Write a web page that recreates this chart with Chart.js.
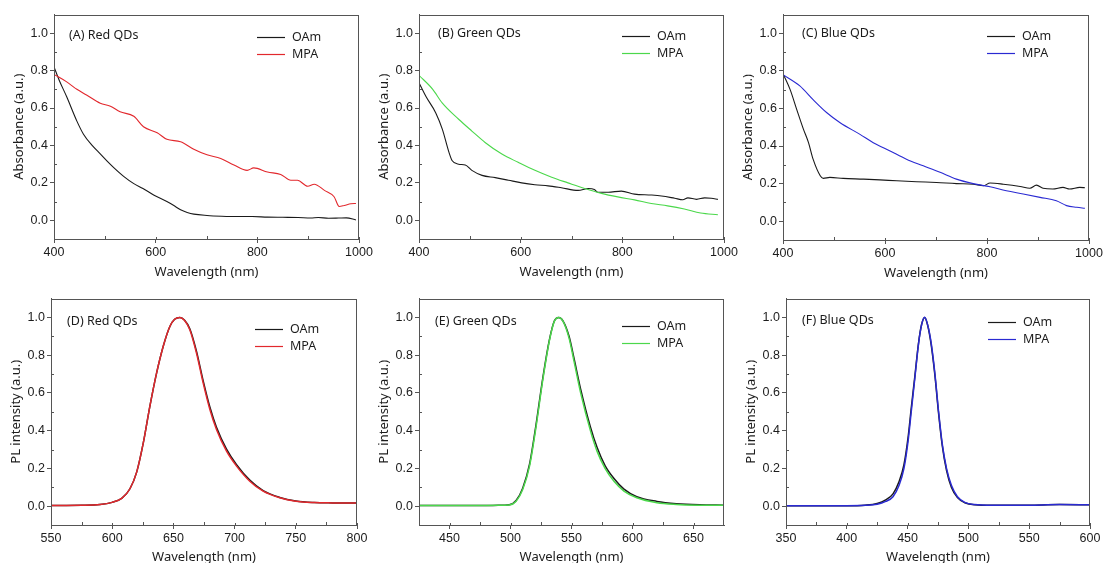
<!DOCTYPE html>
<html>
<head>
<meta charset="utf-8">
<script src="https://cdn.jsdelivr.net/npm/chart.js@4.4.1/dist/chart.umd.min.js"></script>
<style>
    html, body { margin: 0; padding: 0; background: #fff; }
    body { width: 1107px; height: 563px; position: relative; overflow: hidden; }
    .panel { position: absolute; }
</style>
</head>
<body>
<script>
// ---- absorbance (top row) ----
const absRedOAmNm = [400, 410, 425, 445, 458, 475, 491, 505, 517, 537, 557, 575, 596, 622, 635, 649, 662, 675, 701, 730, 760, 790, 820, 850, 880, 905, 920, 940, 960, 975, 994];
const absRedOAm = [0.82, 0.75, 0.66, 0.53, 0.46, 0.40, 0.355, 0.315, 0.283, 0.235, 0.196, 0.17, 0.135, 0.10, 0.08, 0.056, 0.042, 0.033, 0.026, 0.022, 0.020, 0.020, 0.017, 0.016, 0.015, 0.012, 0.015, 0.011, 0.012, 0.013, 0.002];
const absRedMPANm = [400, 425, 445, 464, 491, 511, 530, 557, 576, 603, 622, 649, 675, 701, 728, 754, 780, 793, 820, 846, 866, 879, 899, 912, 932, 951, 961, 971, 984, 994];
const absRedMPA = [0.78, 0.74, 0.70, 0.67, 0.626, 0.61, 0.58, 0.556, 0.50, 0.468, 0.433, 0.42, 0.38, 0.35, 0.33, 0.296, 0.267, 0.28, 0.258, 0.245, 0.214, 0.214, 0.182, 0.193, 0.16, 0.126, 0.074, 0.079, 0.088, 0.09];

const absGreenOAmNm = [400, 414, 433, 446, 459, 465, 478, 491, 504, 524, 550, 576, 602, 628, 654, 680, 713, 733, 745, 752, 772, 798, 824, 857, 877, 903, 919, 929, 946, 962, 975, 988];
const absGreenOAm = [0.735, 0.66, 0.574, 0.486, 0.363, 0.32, 0.30, 0.296, 0.267, 0.24, 0.228, 0.214, 0.20, 0.19, 0.184, 0.174, 0.16, 0.17, 0.165, 0.15, 0.15, 0.156, 0.14, 0.135, 0.13, 0.118, 0.11, 0.12, 0.112, 0.12, 0.118, 0.112];
const absGreenMPANm = [400, 427, 446, 478, 504, 530, 563, 595, 628, 661, 693, 726, 759, 791, 824, 857, 889, 922, 954, 988];
const absGreenMPA = [0.775, 0.70, 0.626, 0.54, 0.477, 0.416, 0.354, 0.31, 0.267, 0.23, 0.20, 0.17, 0.144, 0.125, 0.109, 0.09, 0.077, 0.06, 0.039, 0.03];

const absBlueOAmNm = [400, 414, 427, 440, 450, 459, 473, 479, 492, 518, 558, 590, 623, 662, 701, 740, 773, 793, 806, 832, 865, 884, 897, 910, 929, 949, 962, 982, 992];
const absBlueOAm = [0.785, 0.70, 0.594, 0.49, 0.418, 0.33, 0.242, 0.228, 0.233, 0.228, 0.224, 0.22, 0.215, 0.21, 0.206, 0.20, 0.197, 0.189, 0.203, 0.197, 0.185, 0.175, 0.192, 0.175, 0.171, 0.18, 0.171, 0.18, 0.178];
const absBlueMPANm = [400, 433, 459, 486, 512, 551, 577, 610, 642, 675, 708, 740, 773, 806, 838, 871, 904, 936, 956, 976, 992];
const absBlueMPA = [0.78, 0.72, 0.647, 0.577, 0.524, 0.462, 0.418, 0.374, 0.33, 0.295, 0.26, 0.224, 0.20, 0.183, 0.162, 0.145, 0.127, 0.109, 0.083, 0.074, 0.069];

// ---- PL (bottom row) ----
const plRedNm = [550, 575, 590, 600, 608, 614.5, 620, 625.4, 630.8, 636.3, 641.7, 647.1, 651, 655.3, 659, 663.4, 668.9, 674.3, 679.8, 685.2, 693.4, 701.6, 712.4, 723.3, 736.9, 750, 765, 780, 800];
const plRedOAm = [0.003, 0.004, 0.008, 0.02, 0.042, 0.092, 0.18, 0.335, 0.53, 0.706, 0.847, 0.952, 0.99, 1.0, 0.986, 0.94, 0.82, 0.665, 0.525, 0.418, 0.302, 0.22, 0.138, 0.082, 0.046, 0.027, 0.019, 0.017, 0.016];
const plRedMPA = [0.003, 0.004, 0.008, 0.02, 0.042, 0.092, 0.18, 0.335, 0.53, 0.706, 0.847, 0.952, 0.99, 1.0, 0.985, 0.935, 0.81, 0.653, 0.512, 0.406, 0.291, 0.212, 0.132, 0.079, 0.044, 0.026, 0.019, 0.017, 0.016];

const plGreenNm = [425, 460, 490, 499, 504.6, 510, 515.6, 521, 526.5, 532, 536, 539.5, 543, 548, 552, 557.5, 565.5, 571, 577.5, 585, 593, 603.5, 620, 636, 655, 675];
const plGreenOAm = [0.003, 0.003, 0.004, 0.007, 0.03, 0.095, 0.222, 0.435, 0.68, 0.885, 0.982, 1.0, 0.982, 0.9, 0.785, 0.62, 0.42, 0.31, 0.215, 0.145, 0.09, 0.05, 0.025, 0.013, 0.007, 0.005];
const plGreenMPA = [0.003, 0.003, 0.004, 0.006, 0.026, 0.088, 0.212, 0.423, 0.67, 0.88, 0.98, 1.0, 0.98, 0.89, 0.77, 0.6, 0.4, 0.29, 0.2, 0.13, 0.08, 0.044, 0.018, 0.009, 0.005, 0.004];

const plBlueNm = [350, 400, 415, 425, 432, 438, 443, 447, 450.5, 453, 456, 459, 461.5, 464, 466.5, 469.5, 472.5, 475.5, 478.5, 482, 486, 491, 497, 505, 520, 550, 575, 600];
const plBlueOAm = [0.002, 0.002, 0.005, 0.014, 0.033, 0.065, 0.13, 0.22, 0.37, 0.52, 0.69, 0.865, 0.962, 1.0, 0.958, 0.85, 0.69, 0.49, 0.32, 0.19, 0.1, 0.045, 0.018, 0.007, 0.004, 0.005, 0.008, 0.007];
const plBlueMPA = [0.002, 0.002, 0.004, 0.01, 0.025, 0.05, 0.11, 0.2, 0.35, 0.5, 0.68, 0.86, 0.96, 1.0, 0.96, 0.86, 0.7, 0.5, 0.33, 0.2, 0.11, 0.05, 0.02, 0.008, 0.004, 0.005, 0.008, 0.007];

// ---- ticks ----
const yTicks = [0, 0.2, 0.4, 0.6, 0.8, 1.0];
const yMinorTicks = [-0.1, 0.1, 0.3, 0.5, 0.7, 0.9];
const absXTicks = [400, 600, 800, 1000];
const absXMinor = [500, 700, 900];
const plRedXTicks = [550, 600, 650, 700, 750, 800];
const plRedXMinor = [575, 625, 675, 725, 775];
const plGreenXTicks = [450, 500, 550, 600, 650];
const plGreenXMinor = [475, 525, 575, 625];
const plBlueXTicks = [350, 400, 450, 500, 550, 600];
const plBlueXMinor = [375, 425, 475, 525, 575];

const seriesNames = ['OAm', 'MPA'];

const colors = {
    black: '#1a1a1a',
    red: '#e2282d',
    green: '#4bd84b',
    blue: '#2a2ad2',
    axis: '#555',
    text: '#1c1c1c'
};

const tickFont = "'Liberation Sans', Arial, sans-serif";
const labelFont = "'Noto Sans', 'Open Sans', sans-serif";

const AXIS_W = 50;
const AXIS_H = 42;
const PAD_TOP = 8;
const PAD_RIGHT = 22;

function points(xs, ys) {
    return xs.map((x, i) => ({ x, y: ys[i] }));
}

const panelDeco = {
    id: 'panelDeco',
    afterDatasetsDraw(chart, args, opts) {
        const { ctx, chartArea: a, scales } = chart;
        ctx.save();
        ctx.strokeStyle = colors.axis;
        ctx.lineWidth = 1;
        ctx.strokeRect(Math.round(a.left) + 0.5, Math.round(a.top) + 0.5,
            Math.round(a.right - a.left) - 1, Math.round(a.bottom - a.top) - 1);

        // inward ticks
        ctx.beginPath();
        opts.xMinor.forEach((v) => {
            const x = Math.round(scales.x.getPixelForValue(v)) + 0.5;
            ctx.moveTo(x, a.bottom);
            ctx.lineTo(x, a.bottom - 3);
        });
        opts.xMajor.forEach((v) => {
            const x = Math.round(scales.x.getPixelForValue(v)) + 0.5;
            ctx.moveTo(x, a.bottom);
            ctx.lineTo(x, a.bottom - 2);
        });
        opts.yMinor.forEach((v) => {
            const y = Math.round(scales.y.getPixelForValue(v)) + 0.5;
            ctx.moveTo(a.left, y);
            ctx.lineTo(a.left + 3, y);
        });
        ctx.stroke();

        // panel label
        ctx.fillStyle = colors.text;
        ctx.font = '12.5px ' + labelFont;
        ctx.textBaseline = 'middle';
        ctx.textAlign = 'left';
        ctx.fillText(opts.label, a.left + opts.labelDx, a.top + opts.labelDy);

        // legend
        chart.data.datasets.forEach((ds, i) => {
            const y = Math.round(a.top + opts.keyDy + i * 17.5) + 0.5;
            ctx.strokeStyle = ds.borderColor;
            ctx.lineWidth = 1.2;
            ctx.beginPath();
            ctx.moveTo(a.right - 102, y);
            ctx.lineTo(a.right - 74, y);
            ctx.stroke();
            ctx.fillText(ds.label, a.right - 67, y);
        });
        ctx.restore();
    }
};

function makePanel(p) {
    const [x0, y0, x1, y1] = p.box;
    const width = AXIS_W + (x1 - x0) + PAD_RIGHT;
    const height = PAD_TOP + (y1 - y0) + AXIS_H;
    const canvas = document.createElement('canvas');
    canvas.className = 'panel';
    canvas.width = width;
    canvas.height = height;
    canvas.style.left = (x0 - AXIS_W) + 'px';
    canvas.style.top = (y0 - PAD_TOP) + 'px';
    canvas.style.width = width + 'px';
    canvas.style.height = height + 'px';
    document.body.appendChild(canvas);

    const lineW = p.pl ? 1.5 : 1.1;

    return new Chart(canvas, {
        type: 'line',
        data: {
            datasets: [
                {
                    label: seriesNames[0],
                    data: points(p.oamNm, p.oam),
                    borderColor: colors.black,
                    borderWidth: lineW,
                    pointRadius: 0,
                    cubicInterpolationMode: 'monotone',
                    order: 1
                },
                {
                    label: seriesNames[1],
                    data: points(p.mpaNm, p.mpa),
                    borderColor: p.color,
                    borderWidth: lineW,
                    pointRadius: 0,
                    cubicInterpolationMode: 'monotone',
                    order: 0
                }
            ]
        },
        options: {
            responsive: false,
            animation: false,
            events: [],
            layout: { padding: { top: PAD_TOP, right: PAD_RIGHT, left: 0, bottom: 0 } },
            plugins: {
                legend: { display: false },
                tooltip: { enabled: false },
                panelDeco: {
                    label: p.label,
                    labelDx: p.labelDx,
                    labelDy: p.labelDy,
                    keyDy: p.keyDy,
                    xMinor: p.xMinor,
                    xMajor: p.xTicks,
                    yMinor: yMinorTicks
                }
            },
            scales: {
                x: {
                    type: 'linear',
                    min: p.xMin,
                    max: p.xMax,
                    afterFit: (s) => { s.height = AXIS_H; },
                    afterBuildTicks: (s) => { s.ticks = p.xTicks.map((v) => ({ value: v })); },
                    grid: { drawOnChartArea: false, drawTicks: true, tickLength: 4, color: colors.axis },
                    border: { display: true, color: colors.axis },
                    ticks: {
                        autoSkip: false,
                        maxRotation: 0,
                        padding: 2,
                        color: colors.text,
                        font: { family: tickFont, size: 12.5 },
                        callback: (v) => String(v)
                    },
                    title: {
                        display: true,
                        text: 'Wavelength (nm)',
                        color: colors.text,
                        font: { family: labelFont, size: 13 },
                        padding: { top: 0, bottom: p.pl ? 2 : 1 }
                    }
                },
                y: {
                    type: 'linear',
                    min: -0.1,
                    max: 1.1,
                    afterFit: (s) => { s.width = AXIS_W; },
                    afterBuildTicks: (s) => { s.ticks = yTicks.map((v) => ({ value: v })); },
                    grid: { drawOnChartArea: false, drawTicks: true, tickLength: 4, color: colors.axis },
                    border: { display: true, color: colors.axis },
                    ticks: {
                        padding: 2,
                        color: colors.text,
                        font: { family: tickFont, size: 12.5 },
                        callback: (v) => Number(v).toFixed(1)
                    },
                    title: {
                        display: true,
                        text: p.yTitle,
                        color: colors.text,
                        font: { family: labelFont, size: 13 },
                        padding: { top: 7, bottom: 0 }
                    }
                }
            }
        },
        plugins: [panelDeco]
    });
}

const absTitle = 'Absorbance (a.u.)';
const plTitle = 'PL intensity (a.u.)';

const panelList = [
    { box: [54, 13, 359, 239], label: '(A) Red QDs', color: colors.red, yTitle: absTitle,
      oamNm: absRedOAmNm, oam: absRedOAm, mpaNm: absRedMPANm, mpa: absRedMPA,
      xMin: 400, xMax: 1000, xTicks: absXTicks, xMinor: absXMinor, labelDx: 15, labelDy: 21, keyDy: 22 },
    { box: [419, 13, 724, 239], label: '(B) Green QDs', color: colors.green, yTitle: absTitle,
      oamNm: absGreenOAmNm, oam: absGreenOAm, mpaNm: absGreenMPANm, mpa: absGreenMPA,
      xMin: 400, xMax: 1000, xTicks: absXTicks, xMinor: absXMinor, labelDx: 19, labelDy: 19, keyDy: 21 },
    { box: [783, 13, 1089, 240], label: '(C) Blue QDs', color: colors.blue, yTitle: absTitle,
      oamNm: absBlueOAmNm, oam: absBlueOAm, mpaNm: absBlueMPANm, mpa: absBlueMPA,
      xMin: 400, xMax: 1000, xTicks: absXTicks, xMinor: absXMinor, labelDx: 19, labelDy: 19, keyDy: 21 },
    { box: [51, 297, 357, 525], label: '(D) Red QDs', color: colors.red, yTitle: plTitle, pl: true,
      oamNm: plRedNm, oam: plRedOAm, mpaNm: plRedNm, mpa: plRedMPA,
      xMin: 550, xMax: 800, xTicks: plRedXTicks, xMinor: plRedXMinor, labelDx: 16, labelDy: 23, keyDy: 30 },
    { box: [419, 297, 724, 525], label: '(E) Green QDs', color: colors.green, yTitle: plTitle, pl: true,
      oamNm: plGreenNm, oam: plGreenOAm, mpaNm: plGreenNm, mpa: plGreenMPA,
      xMin: 425, xMax: 675, xTicks: plGreenXTicks, xMinor: plGreenXMinor, labelDx: 16, labelDy: 23, keyDy: 27 },
    { box: [786, 297, 1090, 525], label: '(F) Blue QDs', color: colors.blue, yTitle: plTitle, pl: true,
      oamNm: plBlueNm, oam: plBlueOAm, mpaNm: plBlueNm, mpa: plBlueMPA,
      xMin: 350, xMax: 600, xTicks: plBlueXTicks, xMinor: plBlueXMinor, labelDx: 16, labelDy: 22, keyDy: 23 }
];

panelList.forEach(makePanel);
</script>
</body>
</html>
